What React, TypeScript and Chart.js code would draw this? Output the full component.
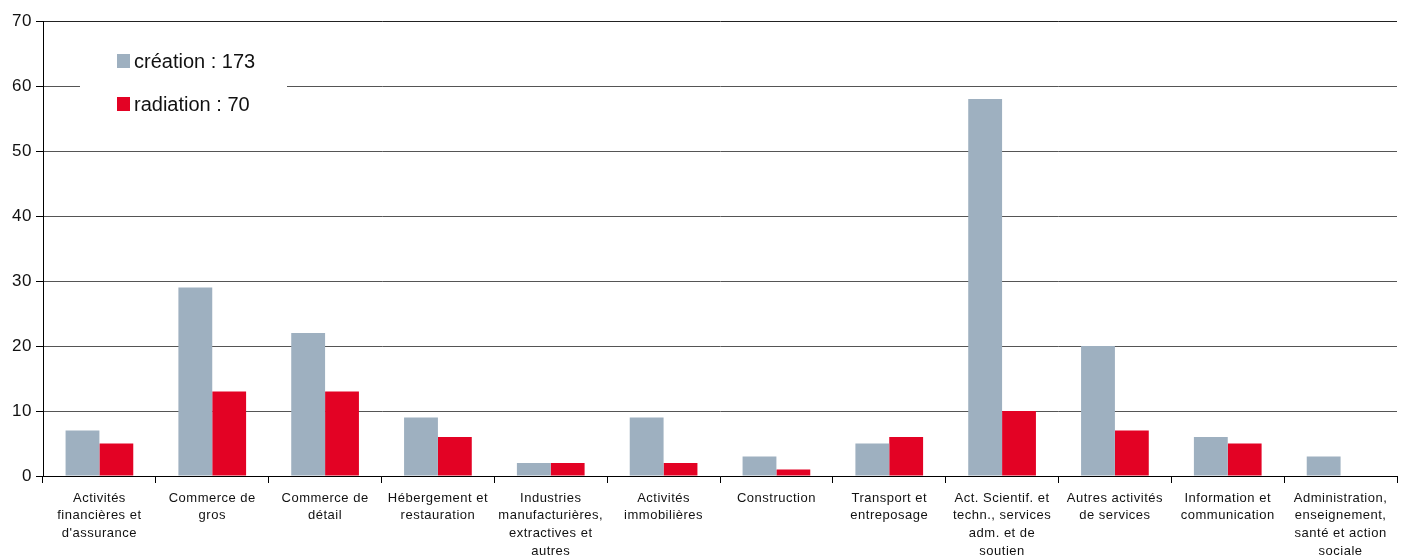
import React, { useEffect, useRef } from "react";
import { Chart, registerables } from "chart.js";

Chart.register(...registerables);

const categories: string[][] = [
  ["Activités", "financières et", "d'assurance"],
  ["Commerce de", "gros"],
  ["Commerce de", "détail"],
  ["Hébergement et", "restauration"],
  ["Industries", "manufacturières,", "extractives et", "autres"],
  ["Activités", "immobilières"],
  ["Construction"],
  ["Transport et", "entreposage"],
  ["Act. Scientif. et", "techn., services", "adm. et de", "soutien"],
  ["Autres activités", "de services"],
  ["Information et", "communication"],
  ["Administration,", "enseignement,", "santé et action", "sociale"],
];

const creation: number[] = [7, 29, 22, 9, 2, 9, 3, 5, 58, 20, 6, 3];
const radiation: number[] = [5, 13, 13, 6, 2, 2, 1, 6, 10, 7, 5, 0];

const seriesLabels: string[] = ["création : 173", "radiation : 70"];
const seriesColors: string[] = ["#9EB0C0", "#E30224"];

const yTicks: number[] = [0, 10, 20, 30, 40, 50, 60, 70];

const legendPlugin = {
  id: "insideLegend",
  beforeDatasetsDraw(chart: any) {
    const ctx = chart.ctx;
    ctx.save();
    ctx.letterSpacing = "0px";
    ctx.fillStyle = "#ffffff";
    ctx.fillRect(80, 36, 207, 94);
    ctx.font = "20px 'Liberation Sans', Arial, sans-serif";
    ctx.textBaseline = "middle";
    ctx.textAlign = "left";
    const rows = [61, 104];
    seriesLabels.forEach((lab, i) => {
      ctx.fillStyle = seriesColors[i];
      ctx.fillRect(117, rows[i] - 7, 13, 14);
      ctx.fillStyle = "#111111";
      ctx.fillText(lab, 134, rows[i] + 1);
    });
    ctx.restore();
  },
};

const spacingPlugin = {
  id: "spacing",
  beforeDraw(chart: any) {
    chart.ctx.letterSpacing = "0.5px";
  },
};

export default function App() {
  const ref = useRef<HTMLCanvasElement | null>(null);
  useEffect(() => {
    if (!ref.current) return;
    const chart = new Chart(ref.current, {
      type: "bar",
      data: {
        labels: categories,
        datasets: [
          {
            label: seriesLabels[0],
            data: creation,
            backgroundColor: seriesColors[0],
            categoryPercentage: 0.6,
            barPercentage: 1,
          },
          {
            label: seriesLabels[1],
            data: radiation,
            backgroundColor: seriesColors[1],
            categoryPercentage: 0.6,
            barPercentage: 1,
          },
        ],
      },
      options: {
        animation: false,
        responsive: false,
        maintainAspectRatio: false,
        layout: { padding: { top: 21, right: 9, left: 0, bottom: 0 } },
        plugins: {
          legend: { display: false },
          tooltip: { enabled: false },
        },
        scales: {
          x: {
            grid: {
              offset: true,
              drawOnChartArea: false,
              drawTicks: true,
              tickLength: 7,
              color: "#000000",
            },
            border: { color: "#000000", width: 1 },
            ticks: {
              color: "#111111",
              font: { family: "'Liberation Sans', Arial, sans-serif", size: 13, lineHeight: 1.38 },
              padding: 6,
              maxRotation: 0,
              minRotation: 0,
              autoSkip: false,
            },
            afterFit(scale: any) {
              scale.height = 80;
            },
          },
          y: {
            min: 0,
            max: 70,
            afterBuildTicks(scale: any) {
              scale.ticks = yTicks.map((v) => ({ value: v }));
            },
            grid: {
              color: (c: any) => (c.tick && c.tick.value === 70 ? "#222222" : "#555555"),
              tickColor: "#000000",
              tickLength: 7,
              lineWidth: 1,
            },
            border: { color: "#000000", width: 1 },
            ticks: {
              color: "#111111",
              font: { family: "'Liberation Sans', Arial, sans-serif", size: 17 },
              padding: 4,
            },
            afterFit(scale: any) {
              scale.width = 43;
            },
          },
        },
      },
      plugins: [spacingPlugin, legendPlugin],
    });
    return () => chart.destroy();
  }, []);
  return (
    <div style={{ position: "fixed", left: 0, top: 0, width: 1406, height: 556, background: "#fff" }}>
      <canvas ref={ref} width={1406} height={556} style={{ width: 1406, height: 556 }} />
    </div>
  );
}
